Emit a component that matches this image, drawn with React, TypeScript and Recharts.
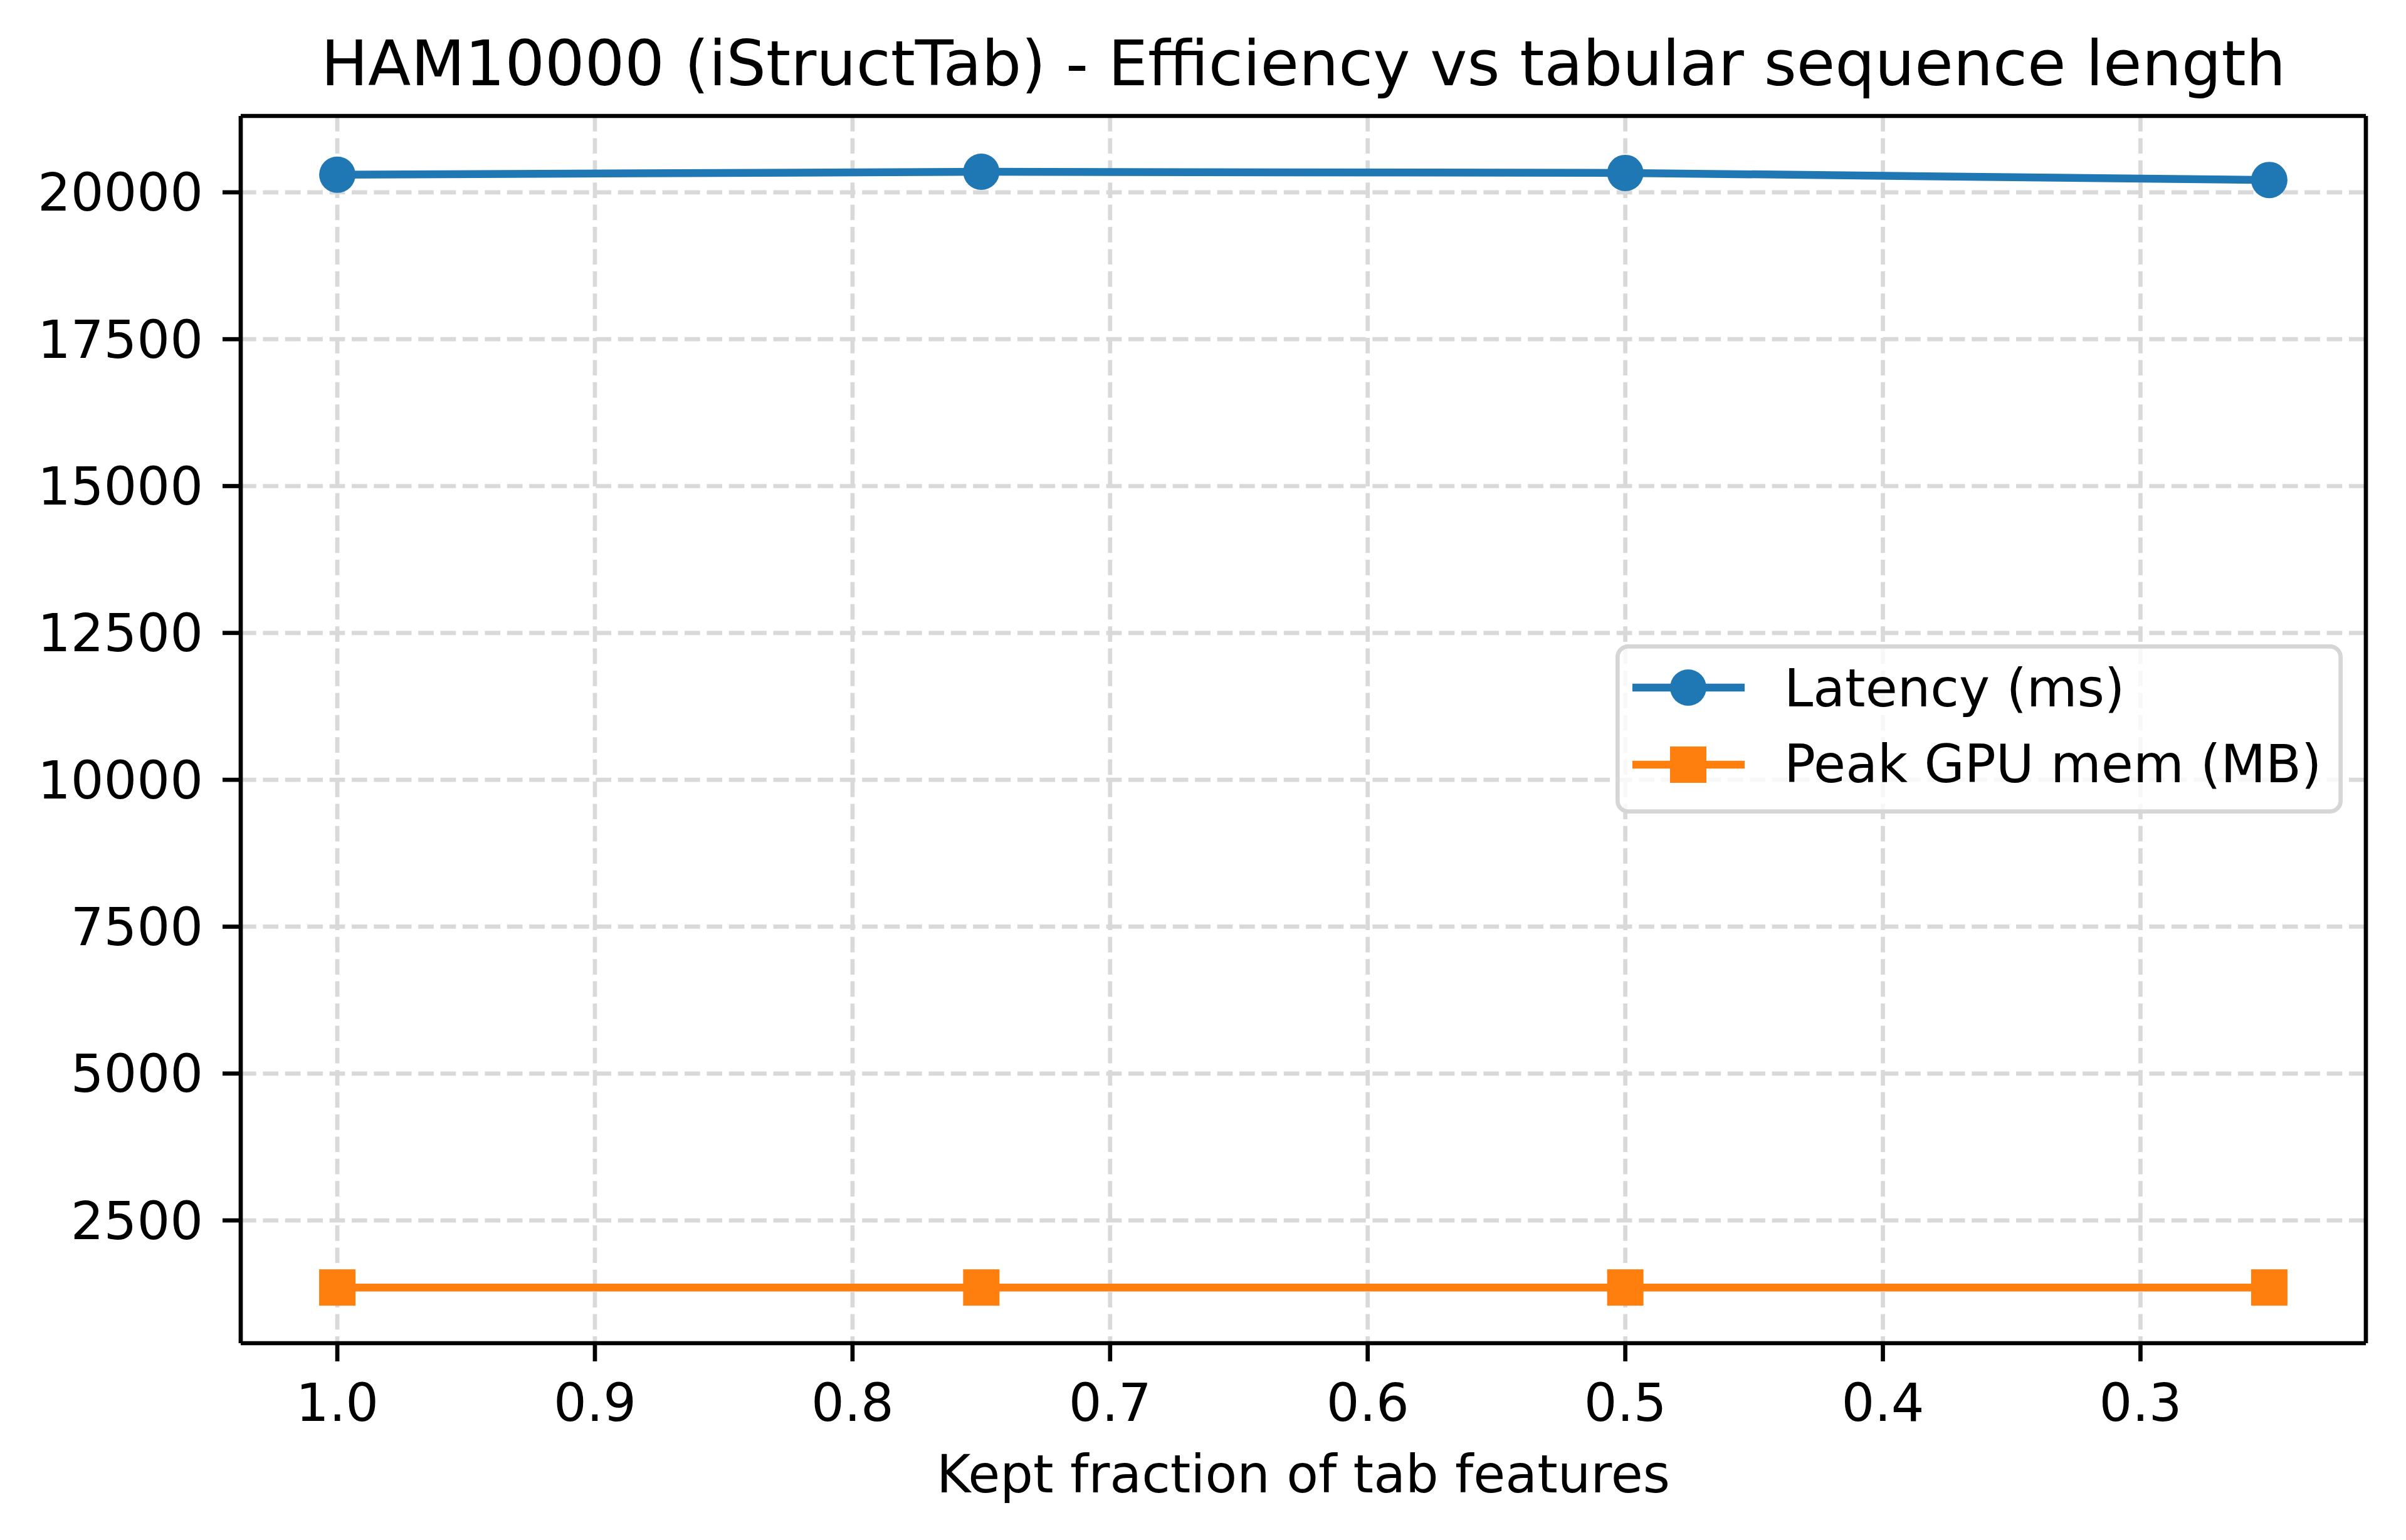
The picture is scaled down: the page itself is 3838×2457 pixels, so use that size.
import React from 'react';
import { LineChart, Line, XAxis, YAxis, CartesianGrid, Legend } from 'recharts';

const fractions = [1.0, 0.75, 0.5, 0.25];
const latencyMs = [20300, 20350, 20330, 20210];
const peakMemMB = [1358, 1358, 1358, 1358];
const seriesNames = ['Latency (ms)', 'Peak GPU mem (MB)'];
const xTicks = [1.0, 0.9, 0.8, 0.7, 0.6, 0.5, 0.4, 0.3];
const yTicks = [2500, 5000, 7500, 10000, 12500, 15000, 17500, 20000];

const BLUE = '#1f77b4';
const ORANGE = '#ff7f0e';
const FONT = '"DejaVu Sans", sans-serif';
const LW = 6.7;

const data = fractions.map((f, i) => ({ fraction: f, latency: latencyMs[i], mem: peakMemMB[i] }));

const SquareDot = (props: any) => {
  const { cx, cy, index } = props;
  if (cx == null || cy == null) return null;
  return <rect key={`sq-${index}`} x={cx - 29} y={cy - 29} width={58} height={58} fill={ORANGE} />;
};

const LegendBox = () => (
  <svg width={1160} height={270} style={{ display: 'block' }}>
    <rect x={3.35} y={3.35} width={1160 - 6.7} height={270 - 6.7} rx={17} ry={17}
      fill="rgba(255,255,255,0.8)" stroke="#d6d6d6" strokeWidth={LW} />
    <line x1={27} x2={206} y1={69} y2={69} stroke={BLUE} strokeWidth={12.5} />
    <circle cx={116} cy={69} r={29} fill={BLUE} />
    <text x={269} y={99} fontSize={83} fontFamily={FONT} fill="#000">{seriesNames[0]}</text>
    <line x1={27} x2={206} y1={192} y2={192} stroke={ORANGE} strokeWidth={12.5} />
    <rect x={116 - 29} y={192 - 29} width={58} height={58} fill={ORANGE} />
    <text x={269} y={220} fontSize={83} fontFamily={FONT} fill="#000">{seriesNames[1]}</text>
  </svg>
);

const tickStyle = { fontSize: 83, fontFamily: FONT, fill: '#000' };

export default function App() {
  return (
    <div style={{ position: 'relative', width: 3830, height: 2449, background: '#fff' }}>
      <svg width={3830} height={200} style={{ position: 'absolute', left: 0, top: 0 }}>
        <text x={2071} y={128} textAnchor="middle" fontSize={100} fontFamily={FONT} fill="#000">
          HAM10000 (iStructTab) - Efficiency vs tabular sequence length
        </text>
      </svg>
      <LineChart width={3830} height={2449} data={data}
        margin={{ top: 176, right: 63, bottom: 54, left: 76 }}>
        <CartesianGrid xAxisId="main" yAxisId="main" stroke="#d9d9d9" strokeWidth={LW}
          strokeDasharray="24.7 10.7" verticalValues={xTicks} horizontalValues={yTicks} />
        <XAxis xAxisId="main" type="number" dataKey="fraction" domain={[0.2125, 1.0375]} reversed
          ticks={xTicks} tickFormatter={(v: number) => v.toFixed(1)} allowDataOverflow
          height={260} tickSize={29} tickMargin={36} tick={tickStyle}
          axisLine={{ stroke: '#000', strokeWidth: LW }} tickLine={{ stroke: '#000', strokeWidth: LW }}
          label={{ value: 'Kept fraction of tab features', position: 'insideBottom', offset: 22,
            style: { fontSize: 83, fontFamily: FONT, fill: '#000' } }} />
        <XAxis xAxisId="top" orientation="top" type="number" dataKey="fraction" domain={[0.2125, 1.0375]}
          reversed allowDataOverflow height={1} tick={false} tickLine={false}
          axisLine={{ stroke: '#000', strokeWidth: LW }} />
        <YAxis yAxisId="main" type="number" domain={[410, 21300]} ticks={yTicks} allowDataOverflow
          width={300} tickSize={29} tickMargin={31} tick={tickStyle}
          axisLine={{ stroke: '#000', strokeWidth: LW }} tickLine={{ stroke: '#000', strokeWidth: LW }} />
        <YAxis yAxisId="right" orientation="right" type="number" domain={[410, 21300]} allowDataOverflow
          width={1} tick={false} tickLine={false} axisLine={{ stroke: '#000', strokeWidth: LW }} />
        <Legend content={LegendBox} layout="horizontal" verticalAlign="middle" align="center"
          wrapperStyle={{ left: 2569, top: 1020, width: 1160, height: 270 }} />
        <Line xAxisId="main" yAxisId="main" dataKey="latency" name={seriesNames[0]} stroke={BLUE}
          strokeWidth={12.5} dot={{ r: 29, fill: BLUE, stroke: 'none' }} activeDot={false}
          isAnimationActive={false} />
        <Line xAxisId="main" yAxisId="main" dataKey="mem" name={seriesNames[1]} stroke={ORANGE}
          strokeWidth={12.5} dot={SquareDot} activeDot={false} isAnimationActive={false} />
      </LineChart>
    </div>
  );
}
